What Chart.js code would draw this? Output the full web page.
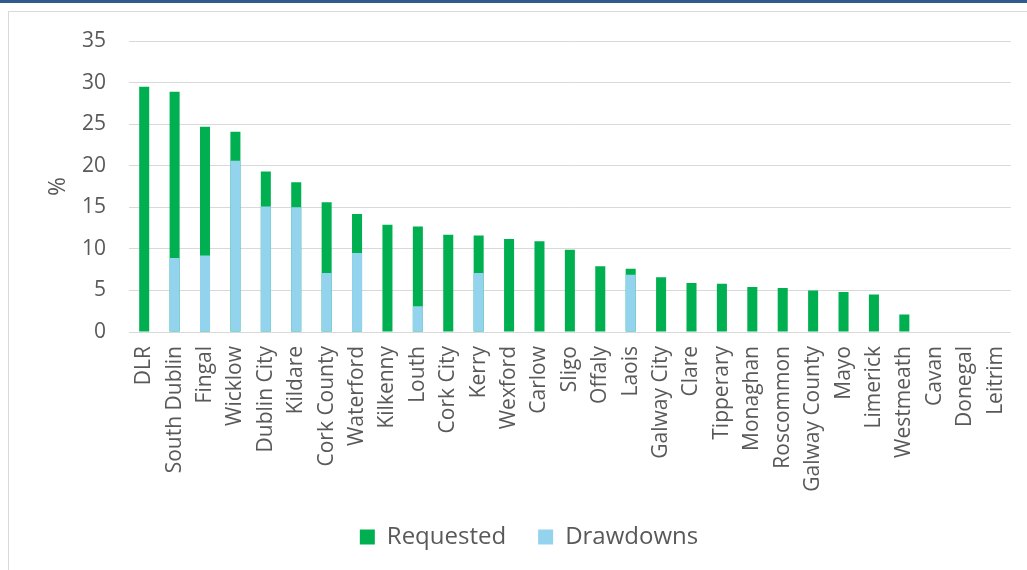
<!DOCTYPE html>
<html>
<head>
<meta charset="utf-8">
<script src="https://cdn.jsdelivr.net/npm/chart.js@4/dist/chart.umd.min.js"></script>
<style>
  html, body { margin: 0; padding: 0; background: #fff; overflow: hidden; }
  #strip { position: absolute; left: 0; top: 0; width: 1027px; height: 3px; background: #2f5a8c; }
  #frame { position: absolute; left: 8px; top: 11px; width: 1100px; height: 700px; border: 1px solid #d9d9d9; }
  #wrap { position: absolute; left: 0; top: 0; width: 1027px; height: 570px; }
</style>
</head>
<body>
<div id="strip"></div>
<div id="frame"></div>
<div id="wrap"><canvas id="chart"></canvas></div>
<script>
// dati (%)
const counties = ["DLR", "South Dublin", "Fingal", "Wicklow", "Dublin City", "Kildare", "Cork County",
    "Waterford", "Kilkenny", "Louth", "Cork City", "Kerry", "Wexford", "Carlow", "Sligo", "Offaly",
    "Laois", "Galway City", "Clare", "Tipperary", "Monaghan", "Roscommon", "Galway County", "Mayo",
    "Limerick", "Westmeath", "Cavan", "Donegal", "Leitrim"];
const requested = [29.5, 28.9, 24.7, 24.1, 19.3, 18.0, 15.6, 14.2, 12.9, 12.7, 11.7, 11.6, 11.2, 10.9,
    9.9, 7.9, 7.6, 6.6, 5.9, 5.8, 5.4, 5.3, 5.0, 4.8, 4.5, 2.1, 0, 0, 0];
const drawdowns = [0, 8.9, 9.2, 20.6, 15.1, 15.0, 7.1, 9.5, 0, 3.1, 0, 7.1, 0, 0,
    0, 0, 6.9, 0, 0, 0, 0, 0, 0, 0, 0, 0, 0, 0, 0];
const yTicks = [0, 5, 10, 15, 20, 25, 30, 35];

const textColor = '#595959';
const fontFamily = "'Open Sans', sans-serif";

const ctx = document.getElementById('chart').getContext('2d');
new Chart(ctx, {
    type: 'bar',
    data: {
        labels: counties,
        datasets: [
            {
                label: 'Requested',
                data: requested,
                backgroundColor: '#00b050',
                order: 2
            },
            {
                label: 'Drawdowns',
                data: drawdowns,
                backgroundColor: '#93d3ee',
                order: 1 // disegnato sopra il verde
            }
        ]
    },
    options: {
        responsive: true,
        maintainAspectRatio: false,
        animation: false,
        layout: { padding: { left: 45, right: 14, top: 41, bottom: 11 } },
        datasets: { bar: { categoryPercentage: 1, barPercentage: 0.33 } },
        scales: {
            x: {
                stacked: true,
                grid: { display: false },
                border: { display: false },
                ticks: {
                    color: textColor,
                    font: { family: fontFamily, size: 21 },
                    minRotation: 90,
                    maxRotation: 90,
                    autoSkip: false,
                    padding: 6
                },
                afterFit: (scale) => { scale.height = 161; }
            },
            y: {
                stacked: false,
                min: 0,
                max: 35,
                afterBuildTicks: (scale) => { scale.ticks = yTicks.map(v => ({ value: v })); },
                grid: { color: '#d9d9d9', lineWidth: 1, drawTicks: false },
                border: { display: false },
                ticks: {
                    color: textColor,
                    font: { family: fontFamily, size: 21 },
                    padding: 23
                },
                title: {
                    display: true,
                    text: '%',
                    color: textColor,
                    font: { family: fontFamily, size: 23 },
                    padding: { top: 0, bottom: 12 }
                },
                afterFit: (scale) => { scale.width = 84; }
            }
        },
        plugins: {
            tooltip: { enabled: false },
            legend: {
                position: 'bottom',
                labels: {
                    color: textColor,
                    font: { family: fontFamily, size: 24 },
                    boxWidth: 15,
                    boxHeight: 15,
                    padding: 32,
                    sort: (a, b) => a.datasetIndex - b.datasetIndex
                }
            }
        }
    }
});
</script>
</body>
</html>
